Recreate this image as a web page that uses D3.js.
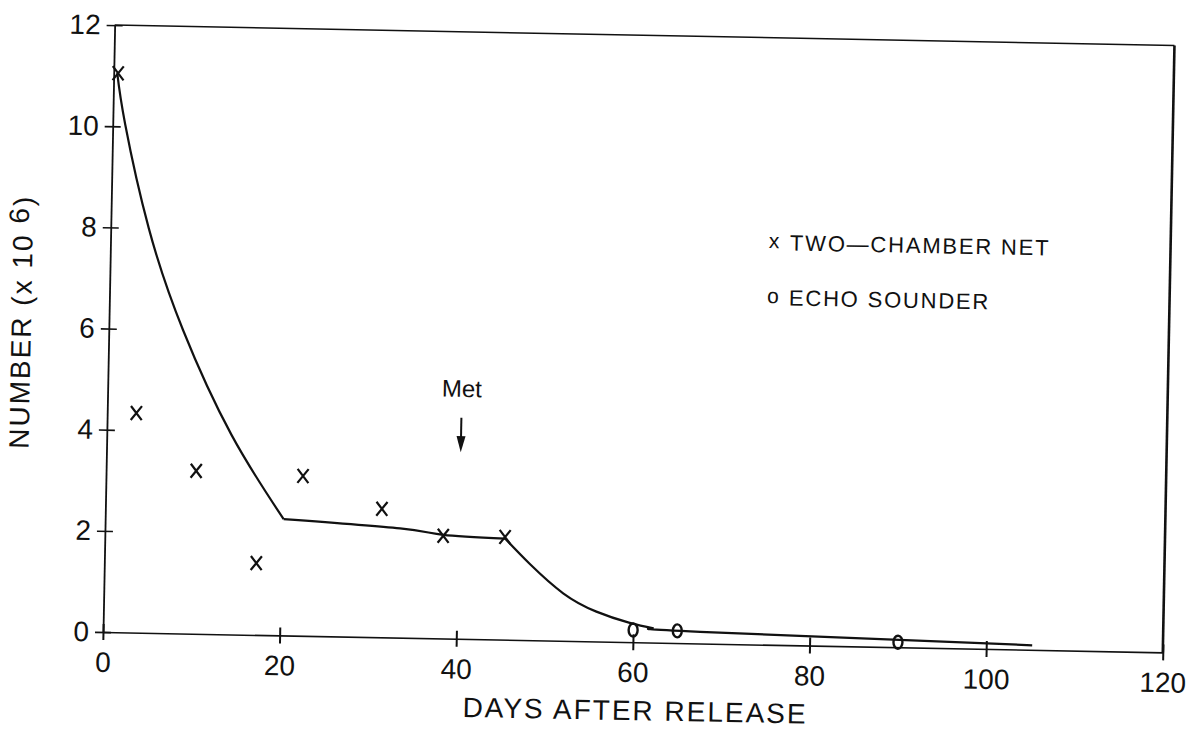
<!DOCTYPE html>
<html>
<head>
<meta charset="utf-8">
<script src="https://cdn.jsdelivr.net/npm/d3@7"></script>
<style>
  body { margin: 0; background: #fff; }
  svg { display: block; }
  text { font-family: "Liberation Sans", Arial, sans-serif; fill: #111; }
</style>
</head>
<body>
<svg id="chart" width="1202" height="734"></svg>
<script>
// values
const netDays = [0.5, 3.3, 10.2, 17.2, 22.3, 31.3, 38.3, 45.3];
const netCounts = [11.05, 4.34, 3.22, 1.42, 3.16, 2.54, 2.03, 2.03];

const echoDays = [60, 65, 90];
const echoCounts = [0.24, 0.24, 0.1];

// fitted line, one list per piece (decay, plateau, decay, tail)
const fitDays = [
  [0.4, 1.4, 4.3, 8.4, 14.1, 20.2],
  [20.2, 33.4, 38.3, 45.3],
  [45.3, 48.2, 52, 55.8, 59.6, 62.3],
  [62.3, 67.6, 105.2],
];
const fitCounts = [
  [11.05, 10.05, 8.0, 6.0, 3.95, 2.3],
  [2.3, 2.16, 2.05, 2.0],
  [2.0, 1.5, 0.94, 0.59, 0.38, 0.28],
  [0.28, 0.23, 0.09],
];

const xTicks = [0, 20, 40, 60, 80, 100, 120];
const yTicks = [0, 2, 4, 6, 8, 10, 12];

const settings = {
  left: 103,
  right: 1163,
  top: 25,
  bottom: 632,
  tilt: 1.1, // the scan is slightly rotated
  ink: "#111",
};

const svg = d3.select("#chart");

const x = d3.scaleLinear().domain([0, 120]).range([settings.left, settings.right]);
const y = d3.scaleLinear().domain([0, 12]).range([settings.bottom, settings.top]);

const g = svg
  .append("g")
  .attr("transform", `rotate(${settings.tilt}, ${settings.left}, ${settings.bottom})`);

// frame: top and right lines
g.append("path")
  .attr("d", `M${x(0)},${y(12)}H${x(120)}`)
  .attr("fill", "none")
  .attr("stroke", settings.ink)
  .attr("stroke-width", 1.5);
g.append("line")
  .attr("x1", x(120)).attr("x2", x(120))
  .attr("y1", y(12)).attr("y2", y(0))
  .attr("stroke", settings.ink)
  .attr("stroke-width", 2.6);

// x axis, ticks cross the line
g.append("g")
  .attr("transform", `translate(0, ${y(0)})`)
  .call(d3.axisBottom(x).tickValues(xTicks).tickSize(8).tickPadding(12).tickSizeOuter(0))
  .call((a) => a.select(".domain").attr("stroke", settings.ink).attr("stroke-width", 1.6))
  .call((a) => a.selectAll(".tick line").attr("y1", -8).attr("stroke", settings.ink).attr("stroke-width", 2))
  .call((a) => a.selectAll(".tick text").attr("font-size", 28).attr("font-family", null).attr("fill", settings.ink));

// y axis
g.append("g")
  .attr("transform", `translate(${x(0)}, 0)`)
  .call(d3.axisLeft(y).tickValues(yTicks).tickSize(8).tickPadding(6).tickSizeOuter(0))
  .call((a) => a.select(".domain").attr("stroke", settings.ink).attr("stroke-width", 1.8))
  .call((a) => a.selectAll(".tick line").attr("x1", 8).attr("stroke", settings.ink).attr("stroke-width", 1.6))
  .call((a) => a.selectAll(".tick text").attr("font-size", 28).attr("font-family", null).attr("fill", settings.ink));

// axis titles
g.append("text")
  .attr("x", x(60.4))
  .attr("y", y(0) + 78)
  .attr("text-anchor", "middle")
  .attr("font-size", 28)
  .attr("letter-spacing", 2)
  .text("DAYS AFTER RELEASE");

const ytitle = g
  .append("text")
  .attr("transform", `translate(${x(0) - 78}, ${y(6.1)}) rotate(-90)`)
  .attr("text-anchor", "middle")
  .attr("font-size", 28)
  .attr("letter-spacing", 2);
ytitle.append("tspan").text("NUMBER (x 10 ");
ytitle.append("tspan").attr("dy", -4).text("6");
ytitle.append("tspan").attr("dy", 4).text(")");

// fitted curve, drawn piece by piece so the corners stay sharp
const line = d3
  .line()
  .x((d) => x(d[0]))
  .y((d) => y(d[1]))
  .curve(d3.curveNatural);

g.append("g")
  .selectAll("path")
  .data(fitDays.map((days, k) => days.map((d, i) => [d, fitCounts[k][i]])))
  .join("path")
  .attr("d", line)
  .attr("fill", "none")
  .attr("stroke", settings.ink)
  .attr("stroke-width", 2.2);

// two-chamber net points
g.append("g")
  .selectAll("path")
  .data(netCounts)
  .join("path")
  .attr("transform", (d, i) => `translate(${x(netDays[i])}, ${y(d)})`)
  .attr("d", "M-5.5,-7L5.5,7M5.5,-7L-5.5,7")
  .attr("stroke", settings.ink)
  .attr("stroke-width", 2.2);

// echo sounder points
g.append("g")
  .selectAll("ellipse")
  .data(echoCounts)
  .join("ellipse")
  .attr("cx", (d, i) => x(echoDays[i]))
  .attr("cy", (d) => y(d))
  .attr("rx", 4.5)
  .attr("ry", 6.5)
  .attr("fill", "none")
  .attr("stroke", settings.ink)
  .attr("stroke-width", 2.4);

// legend
const legend = g.append("g").attr("transform", `translate(${x(75.1)}, ${y(7.96)})`);
legend.append("text").attr("x", 0).attr("y", 6).attr("text-anchor", "middle").attr("font-size", 21).text("x");
legend.append("text").attr("x", 16).attr("y", 8).attr("font-size", 22).attr("letter-spacing", 1.8).text("TWO\u2014CHAMBER NET");
legend.append("text").attr("x", 0).attr("y", 61).attr("text-anchor", "middle").attr("font-size", 21).text("o");
legend.append("text").attr("x", 16).attr("y", 63).attr("font-size", 22).attr("letter-spacing", 1.8).text("ECHO SOUNDER");

// "Met" marker
g.append("text")
  .attr("x", x(40.1))
  .attr("y", y(4.96) + 9)
  .attr("text-anchor", "middle")
  .attr("font-size", 24)
  .text("Met");
g.append("line")
  .attr("x1", x(40.1)).attr("x2", x(40.1))
  .attr("y1", y(4.37)).attr("y2", y(3.85))
  .attr("stroke", settings.ink)
  .attr("stroke-width", 2);
g.append("path")
  .attr("transform", `translate(${x(40.1)}, ${y(3.69)})`)
  .attr("d", "M0,0L-4.5,-16L4.5,-16Z")
  .attr("fill", settings.ink);
</script>
</body>
</html>
